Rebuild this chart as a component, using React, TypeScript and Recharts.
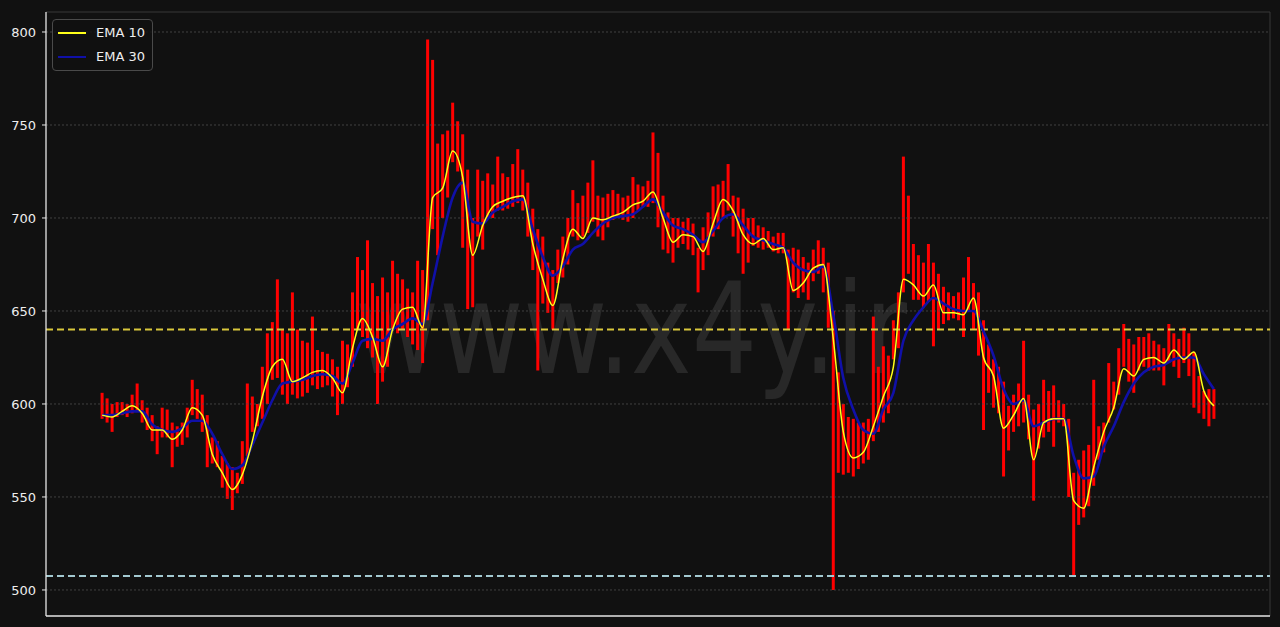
import React from "react";
import {
  ComposedChart,
  Bar,
  Line,
  XAxis,
  YAxis,
  ReferenceLine,
} from "recharts";

// Candle highs / lows (one candle every step, left to right)
const candleHigh = [
  606, 603, 600, 601, 601, 600, 605, 611, 602, 598,
  594, 588, 598, 597, 590, 588, 590, 598, 613, 608,
  605, 594, 582, 580, 572, 568, 566, 563, 580, 611,
  604, 600, 620, 638, 644, 667, 640, 638, 660, 640,
  634, 633, 647, 629, 628, 627, 624, 620, 634, 632,
  660, 679, 672, 688, 665, 658, 668, 660, 677, 670,
  667, 662, 660, 677, 672, 796, 785, 740, 745, 747,
  762, 752, 745, 726, 700, 726, 720, 724, 718, 733,
  724, 722, 729, 737, 726, 719, 705, 694, 690, 676,
  672, 683, 690, 700, 715, 708, 712, 719, 731, 712,
  711, 713, 715, 713, 711, 712, 722, 718, 717, 720,
  746, 735, 712, 703, 700, 700, 698, 700, 697, 684,
  695, 703, 717, 718, 720, 729, 712, 711, 705, 700,
  700, 696, 695, 693, 690, 692, 692, 683, 684, 683,
  679, 676, 683, 688, 684, 676, 650, 617, 600, 593,
  592, 590, 590, 592, 647, 620, 631, 626, 645, 660,
  733, 712, 686, 680, 676, 686, 676, 670, 663, 660,
  658, 660, 668, 679, 665, 660, 645, 632, 624, 620,
  612, 599, 605, 611, 634, 605, 597, 600, 613, 607,
  610, 602, 600, 592, 563, 570, 575, 578, 613, 588,
  590, 622, 612, 630, 643, 635, 632, 636, 636, 638,
  634, 632, 630, 643, 638, 635, 641, 638, 628, 615,
  607, 608, 608,
];

const candleLow = [
  592, 590, 585, 593, 594, 593, 595, 596, 590, 586,
  580, 573, 582, 582, 566, 577, 578, 582, 594, 592,
  585, 566, 568, 566, 555, 549, 543, 552, 557, 572,
  585, 588, 592, 600, 613, 614, 605, 600, 605, 603,
  604, 606, 610, 608, 609, 610, 604, 594, 600, 609,
  620, 640, 636, 630, 625, 600, 612, 620, 640, 638,
  640, 636, 632, 629, 622, 645, 694, 680, 700, 711,
  730, 725, 684, 651, 652, 690, 683, 700, 700, 704,
  704, 705, 706, 708, 704, 690, 672, 618, 654, 649,
  640, 665, 668, 675, 690, 688, 690, 692, 698, 690,
  688, 695, 699, 700, 699, 698, 700, 704, 706, 706,
  708, 695, 683, 681, 676, 684, 686, 683, 680, 660,
  672, 680, 690, 694, 700, 704, 690, 681, 670, 676,
  685, 684, 683, 684, 682, 681, 681, 640, 660, 657,
  660, 656, 666, 670, 660, 641, 500, 563, 562, 563,
  561, 565, 568, 570, 580, 585, 590, 595, 624, 630,
  660, 670, 656, 656, 652, 655, 631, 640, 643, 645,
  646, 645, 636, 650, 640, 626, 586, 606, 598, 595,
  561, 575, 585, 588, 590, 581, 548, 576, 582, 585,
  577, 590, 588, 550, 507, 535, 539, 545, 556, 570,
  574, 590, 597, 605, 620, 612, 606, 618, 620, 618,
  618, 618, 610, 622, 620, 614, 622, 615, 598, 595,
  592, 588, 592,
];

// EMA values, one every second candle
const ema10 = [
  594, 593, 596, 599, 595, 586, 586, 581, 586, 598,
  594, 573, 563, 554, 562, 580, 604, 620, 624, 612,
  614, 617, 618, 614, 606, 630, 646, 636, 620, 640,
  651, 652, 641, 711, 716, 736, 722, 680, 696, 706,
  709, 711, 712, 686, 667, 653, 678, 694, 689, 700,
  699, 701, 703, 707, 709, 714, 700, 687, 691, 690,
  682, 697, 710, 704, 691, 686, 689, 683, 684, 661,
  665, 673, 675, 635, 585, 571, 574, 588, 604, 620,
  667, 664, 658, 664, 649, 649, 648, 657, 625, 615,
  587, 594, 603, 570, 590, 592, 592, 548, 544, 566,
  585, 598, 619, 615, 624, 625, 622, 629, 624, 628,
  607, 599,
];

const ema30 = [
  594, 594, 595, 596, 596, 589, 586, 585, 587, 591,
  591, 584, 573, 565, 567, 578, 590, 602, 611, 612,
  613, 615, 616, 615, 611, 622, 634, 635, 634, 640,
  643, 646, 643, 665, 690, 711, 719, 698, 697, 703,
  706, 709, 710, 694, 679, 669, 674, 683, 686, 692,
  697, 700, 701, 702, 706, 710, 703, 696, 694, 691,
  687, 693, 700, 702, 696, 690, 688, 686, 684, 676,
  672, 671, 674, 648, 614, 597, 586, 584, 597, 606,
  634, 645, 652, 657, 654, 651, 650, 650, 639, 626,
  608, 600, 602, 588, 590, 592, 592, 572, 560, 561,
  577, 588, 601, 611, 617, 620, 621, 624, 625, 625,
  616, 608,
];

const yTicks = [500, 550, 600, 650, 700, 750, 800];
const levelHigh = 640;
const levelLow = 507.5;

const data = candleHigh.map((h, i) => ({
  i,
  hl: [candleLow[i], h],
  ema10: i % 2 === 0 ? ema10[i / 2] : null,
  ema30: i % 2 === 0 ? ema30[i / 2] : null,
}));

const X_MIN = -11.2;
const X_MAX = 233.2;
const Y_MIN = 486;
const Y_MAX = 810.75;

const FONT = "'DejaVu Sans', sans-serif";

const legendItems = [
  { name: "EMA 10", color: "#ffff1a", top: 13 },
  { name: "EMA 30", color: "#1010a8", top: 37 },
];

const LegendBox = () => (
  <div
    style={{
      position: "absolute",
      left: 52,
      top: 19,
      width: 99,
      height: 50,
      border: "1px solid #4a4a4a",
      borderRadius: 4,
      background: "rgba(17,17,17,0.85)",
      fontFamily: FONT,
      fontSize: 13,
      color: "#eeeeee",
    }}
  >
    {legendItems.map((e) => (
      <div key={e.name}>
        <div
          style={{
            position: "absolute",
            left: 5,
            top: e.top - 1,
            width: 28,
            height: 2,
            background: e.color,
          }}
        />
        <div
          style={{
            position: "absolute",
            left: 43,
            top: e.top - 9,
            lineHeight: "17px",
            whiteSpace: "nowrap",
          }}
        >
          {e.name}
        </div>
      </div>
    ))}
  </div>
);

export default function App() {
  return (
    <div
      style={{
        position: "absolute",
        left: 0,
        top: 0,
        width: 1280,
        height: 627,
        background: "#111111",
        overflow: "hidden",
      }}
    >
      <svg
        width={1280}
        height={627}
        style={{ position: "absolute", left: 0, top: 0 }}
      >
        <text
          x={355}
          y={373}
          fontSize={126}
          fontFamily={FONT}
          fill="#282828"
          textLength={552}
          lengthAdjust="spacingAndGlyphs"
        >
          www.x4y.ir
        </text>
      </svg>
      <div style={{ position: "absolute", left: 0, top: 0 }}>
        <ComposedChart
          width={1280}
          height={627}
          data={data}
          margin={{ top: 12, right: 10, bottom: 11, left: 0 }}
        >
          <XAxis
            type="number"
            dataKey="i"
            domain={[X_MIN, X_MAX]}
            allowDataOverflow
            hide
          />
          <YAxis
            type="number"
            domain={[Y_MIN, Y_MAX]}
            allowDataOverflow
            ticks={yTicks}
            width={46}
            tickSize={4}
            tickMargin={6}
            axisLine={{ stroke: "#e6e6e6", strokeWidth: 1.3 }}
            tickLine={{ stroke: "#e6e6e6" }}
            tick={{ fill: "#eeeeee", fontSize: 13, fontFamily: FONT }}
          />
          {yTicks.map((t) => (
            <ReferenceLine
              key={"g" + t}
              y={t}
              stroke="#4e4e4e"
              strokeWidth={0.8}
              strokeDasharray="2 2"
            />
          ))}
          <ReferenceLine y={Y_MAX} stroke="#383838" strokeWidth={1} />
          <ReferenceLine x={X_MAX} stroke="#383838" strokeWidth={1} />
          <ReferenceLine y={Y_MIN} stroke="#e6e6e6" strokeWidth={1.3} />
          <ReferenceLine
            y={levelHigh}
            stroke="#d9c73c"
            strokeWidth={2}
            strokeDasharray="7 4"
          />
          <ReferenceLine
            y={levelLow}
            stroke="#a3c9d1"
            strokeWidth={2}
            strokeDasharray="7 4"
          />
          <Bar
            dataKey="hl"
            fill="#ff0000"
            barSize={3}
            isAnimationActive={false}
            legendType="none"
          />
          <Line
            type="monotone"
            dataKey="ema30"
            name="EMA 30"
            stroke="#1010a8"
            strokeWidth={2.6}
            dot={false}
            connectNulls
            isAnimationActive={false}
          />
          <Line
            type="monotone"
            dataKey="ema10"
            name="EMA 10"
            stroke="#ffff1a"
            strokeWidth={1.5}
            dot={false}
            connectNulls
            isAnimationActive={false}
          />
        </ComposedChart>
      </div>
      <LegendBox />
    </div>
  );
}
